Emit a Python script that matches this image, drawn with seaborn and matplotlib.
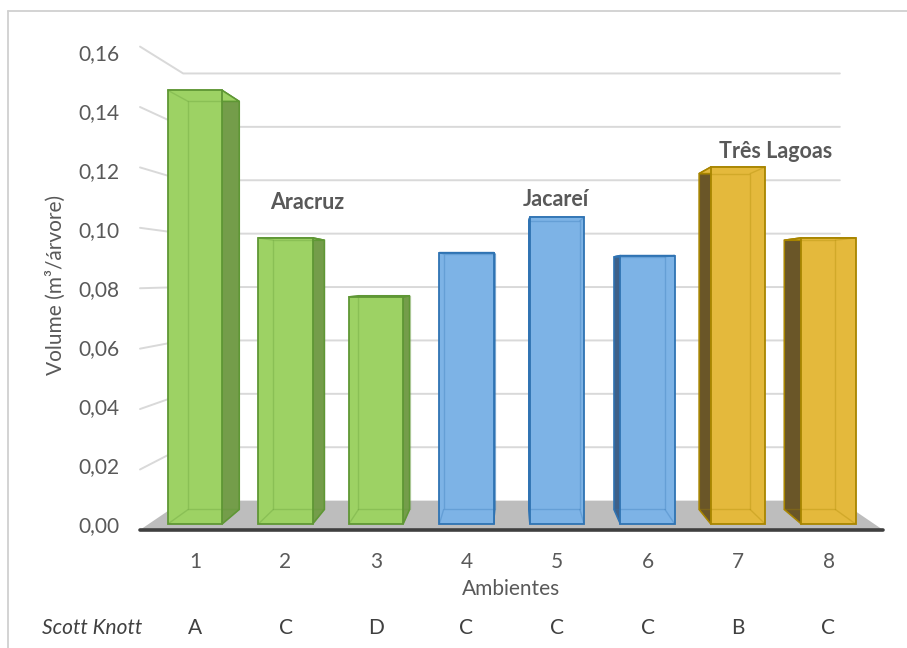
import numpy as np
import pandas as pd
import matplotlib
matplotlib.use("Agg")
import matplotlib.pyplot as plt
from matplotlib.patches import Polygon
from matplotlib.lines import Line2D
from matplotlib.ticker import FuncFormatter
from matplotlib.transforms import blended_transform_factory
import seaborn as sns

# ---- data -------------------------------------------------------------
ambientes = ["1", "2", "3", "4", "5", "6", "7", "8"]
volumes = [0.147, 0.097, 0.077, 0.092, 0.104, 0.091, 0.121, 0.097]
locais = ["Aracruz", "Aracruz", "Aracruz",
          "Jacareí", "Jacareí", "Jacareí",
          "Três Lagoas", "Três Lagoas"]
scott_knott = ["A", "C", "D", "C", "C", "C", "B", "C"]
yticks = [0.00, 0.02, 0.04, 0.06, 0.08, 0.10, 0.12, 0.14, 0.16]

# ---- styling -----------------------------------------------------------
face = {"Aracruz": "#9dd264", "Jacareí": "#7db3e6", "Três Lagoas": "#e4b93c"}
edge = {"Aracruz": "#5f9735", "Jacareí": "#2f73b3", "Três Lagoas": "#a88500"}
side = {"Aracruz": "#749d4a", "Jacareí": "#3e6088", "Três Lagoas": "#6a5628"}
label_pos = {"Aracruz": (1.24, 0.109), "Jacareí": (3.99, 0.110),
             "Três Lagoas": (6.42, 0.1264)}
TXT = "#595959"

sns.set_theme(style="white")
plt.rcParams["font.family"] = ["Lato", "DejaVu Sans"]

W, H = 907, 648
fig = plt.figure(figsize=(W / 100, H / 100), dpi=100)
ax = fig.add_axes([140 / W, (H - 540) / H, (883 - 140) / W, (540 - 30) / H])

df = pd.DataFrame({"Ambiente": ambientes, "Volume": volumes, "Local": locais})
sns.barplot(data=df, x="Ambiente", y="Volume", hue="Local", palette=face,
            dodge=False, width=0.6, saturation=1, legend=False, ax=ax,
            errorbar=None)

ax.set_xlim(-55 / 90.5, 688 / 90.5)
ax.set_ylim(-16 / 2950, 494 / 2950)
for s in ax.spines.values():
    s.set_visible(False)

# ---- pseudo-3D perspective --------------------------------------------
VP = np.array([(len(ambientes) - 1) / 2, 0.0834])   # vanishing point
K_BAR, K_FRONT, K_WALL = 0.941, 1.024, 0.905


def proj(x, y, k):
    return VP + k * (np.array([x, y]) - VP)


xl, xr = ax.get_xlim()
pl = VP[0] + (xl - VP[0]) / K_FRONT
pr = VP[0] + (xr - VP[0]) / K_FRONT

# floor slab
fl, fr = proj(pl, 0, K_FRONT), proj(pr, 0, K_FRONT)
bl, br = proj(pl, 0, K_WALL), proj(pr, 0, K_WALL)
ax.add_patch(Polygon([fl, fr, br, bl], closed=True, fc="#bdbdbd", ec="none",
                     zorder=2, clip_on=False))
ax.plot([fl[0], fr[0]], [fl[1], fr[1]], color="#3f3f3f", lw=2.6,
        solid_capstyle="round", zorder=2.5, clip_on=False)

# gridlines folding onto the back wall
for v in yticks[1:]:
    a, b, c = proj(pl, v, K_FRONT), proj(pl, v, K_WALL), proj(pr, v, K_WALL)
    ax.plot([a[0], b[0], c[0]], [a[1], b[1], c[1]], color="#d9d9d9",
            lw=1.4, zorder=1, clip_on=False)

# boxes: front face from seaborn, side/top faces and back edges added
for p in ax.patches[:]:
    if not hasattr(p, "get_width") or p.get_width() == 0 or p.get_height() == 0:
        continue
    x0, w, h = p.get_x(), p.get_width(), p.get_height()
    x1 = x0 + w
    i = int(round(x0 + w / 2))
    loc = locais[i]
    p.set_facecolor(face[loc])
    p.set_edgecolor(edge[loc])
    p.set_linewidth(1.3)
    p.set_zorder(4)

    xs = x1 if (x0 + w / 2) < VP[0] else x0
    ax.add_patch(Polygon([(xs, 0), (xs, h), proj(xs, h, K_BAR), proj(xs, 0, K_BAR)],
                         closed=True, fc=side[loc], ec=edge[loc], lw=1.1, zorder=3))
    ax.add_patch(Polygon([(x0, h), (x1, h), proj(x1, h, K_BAR), proj(x0, h, K_BAR)],
                         closed=True, fc=face[loc], ec=edge[loc], lw=1.1, zorder=3))

    b00, b10 = proj(x0, 0, K_BAR), proj(x1, 0, K_BAR)
    b11, b01 = proj(x1, h, K_BAR), proj(x0, h, K_BAR)
    ring = [b00, b10, b11, b01, b00]
    ax.plot([q[0] for q in ring], [q[1] for q in ring], color=edge[loc],
            lw=1.0, alpha=0.3, zorder=5)
    for fx, fy, bq in [(x0, 0, b00), (x1, 0, b10), (x1, h, b11), (x0, h, b01)]:
        ax.plot([fx, bq[0]], [fy, bq[1]], color=edge[loc], lw=1.0, alpha=0.3, zorder=5)

# ---- axes text ----------------------------------------------------------
ax.set_yticks(yticks)
ax.yaxis.set_major_formatter(FuncFormatter(lambda v, _: f"{v:.2f}".replace(".", ",")))
ax.tick_params(axis="y", length=0, pad=15, labelsize=15, labelcolor=TXT)
ax.tick_params(axis="x", length=0, pad=9, labelsize=15, labelcolor=TXT)
ax.set_xlabel("Ambientes", fontsize=15, color=TXT, labelpad=5)
ax.set_ylabel("Volume (m³/árvore)", fontsize=15, color=TXT)
ax.yaxis.set_label_coords((66 - 140) / 743, 0.5)
ax.grid(False)

for loc, (gx, gy) in label_pos.items():
    ax.text(gx, gy, loc, ha="center", va="center", fontsize=15.5,
            fontweight="bold", color=TXT, zorder=6)

row = blended_transform_factory(ax.transData, fig.transFigure)
for i, letra in enumerate(scott_knott):
    ax.text(i, 20 / H, letra, transform=row, ha="center", va="center",
            fontsize=15, color="#404040")
fig.text(142 / W, 20 / H, "Scott Knott", ha="right", va="center",
         fontsize=15, style="italic", color="#404040")

# chart frame
fig.add_artist(Line2D([8 / W, 8 / W], [0, (H - 11) / H], transform=fig.transFigure,
                      color="#d0d0d0", lw=1.3))
fig.add_artist(Line2D([8 / W, 1], [(H - 11) / H, (H - 11) / H],
                      transform=fig.transFigure, color="#d0d0d0", lw=1.3))

fig.savefig("out.png", dpi=100)
